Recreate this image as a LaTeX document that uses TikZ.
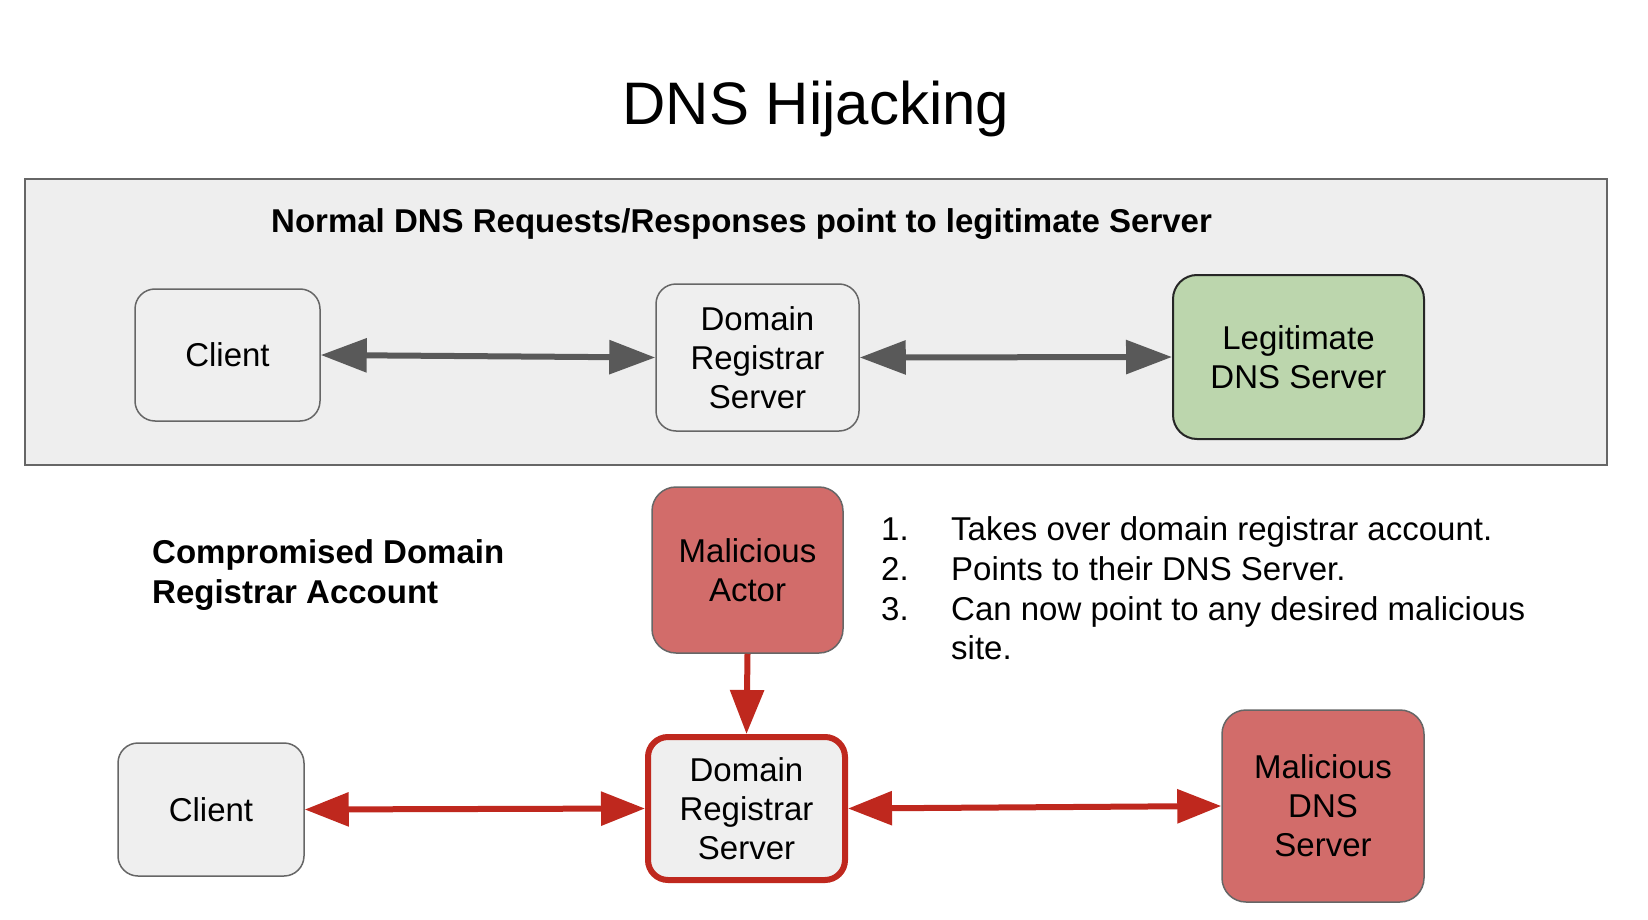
\documentclass[tikz,border=0pt]{standalone}
\usepackage{fontspec}
\setmainfont{Liberation Sans}
\usetikzlibrary{arrows.meta}
\definecolor{panelbg}{HTML}{EEEEEE}
\definecolor{boxfill}{HTML}{EFEFEF}
\definecolor{boxedge}{HTML}{666666}
\definecolor{arrgray}{HTML}{595959}
\definecolor{legitgreen}{HTML}{BCD6AD}
\definecolor{malred}{HTML}{D26C6A}
\definecolor{arrred}{HTML}{BF281E}
\begin{document}
\begin{tikzpicture}[x=1pt,y=-1pt,
  boxtext/.style={font=\fontsize{33}{39}\selectfont, align=center},
  nodebox/.style={boxtext, draw=boxedge, line width=1.5pt, fill=boxfill, rounded corners=20pt, inner sep=0pt},
  legitbox/.style={nodebox, fill=legitgreen, draw=black!85, line width=2pt, rounded corners=24pt},
  malbox/.style={nodebox, fill=malred, rounded corners=24pt},
  hotbox/.style={nodebox, draw=arrred, line width=6pt},
  grayarrow/.style={draw=arrgray, line width=6pt, {Triangle[length=46pt,width=33pt]}-{Triangle[length=46pt,width=33pt]}},
  redarrow/.style={draw=arrred, line width=6pt, {Triangle[length=44pt,width=33pt]}-{Triangle[length=44pt,width=33pt]}},
  redarrowone/.style={draw=arrred, line width=6pt, -{Triangle[length=44pt,width=33pt]}},
  boldtext/.style={font=\fontsize{33}{40}\selectfont\bfseries, inner sep=0pt},
  listtext/.style={font=\fontsize{33}{40}\selectfont, inner sep=0pt}
]
\useasboundingbox (0,0) rectangle (1648,920);
\fill[white] (0,0) rectangle (1648,920);

% title
\node[font=\fontsize{60}{70}\selectfont, inner sep=0pt, anchor=base] (title) at (816,125) {DNS Hijacking};

% top panel
\draw[fill=panelbg, draw=boxedge, line width=1.5pt] (25,179) rectangle (1607,465);
\node[boldtext, anchor=base west] (hdr) at (271,233) {Normal DNS Requests/Responses point to legitimate Server};

\node[nodebox, minimum width=185pt, minimum height=132pt] (client1) at (227.5,355) {Client};
\node[nodebox, minimum width=203pt, minimum height=147pt] (reg1) at (757.5,357.5) {Domain\\Registrar\\Server};
\node[legitbox, minimum width=251pt, minimum height=164pt] (legit) at (1298.5,357) {Legitimate\\DNS Server};

\draw[grayarrow] (client1.east) -- (reg1.west);
\draw[grayarrow] (reg1.east) -- (legit.west);

% bottom part
\node[boldtext, anchor=base west] (comp1) at (152,563) {Compromised Domain};
\node[boldtext, anchor=base west] (comp2) at (152,603) {Registrar Account};

\node[malbox, minimum width=191pt, minimum height=166pt] (actor) at (747.5,570) {Malicious\\Actor};

\node[listtext, anchor=base west] (n1) at (881,540) {1.};
\node[listtext, anchor=base west] (t1) at (951,540) {Takes over domain registrar account.};
\node[listtext, anchor=base west] (n2) at (881,580) {2.};
\node[listtext, anchor=base west] (t2) at (951,580) {Points to their DNS Server.};
\node[listtext, anchor=base west] (n3) at (881,620) {3.};
\node[listtext, anchor=base west] (t3) at (951,620) {Can now point to any desired malicious};
\node[listtext, anchor=base west] (t4) at (951,659) {site.};

\node[nodebox, minimum width=186pt, minimum height=133pt] (client2) at (211,809.5) {Client};
\node[hotbox, minimum width=197pt, minimum height=143pt] (reg2) at (746.5,808.5) {Domain\\Registrar\\Server};
\node[malbox, minimum width=202pt, minimum height=192pt] (maldns) at (1323,806) {Malicious\\DNS\\Server};

\draw[redarrowone] (actor.south) -- (reg2.north);
\draw[redarrow] (client2.east) -- (reg2.west);
\draw[redarrow] (reg2.east) -- (maldns.west);
\end{tikzpicture}
\end{document}
